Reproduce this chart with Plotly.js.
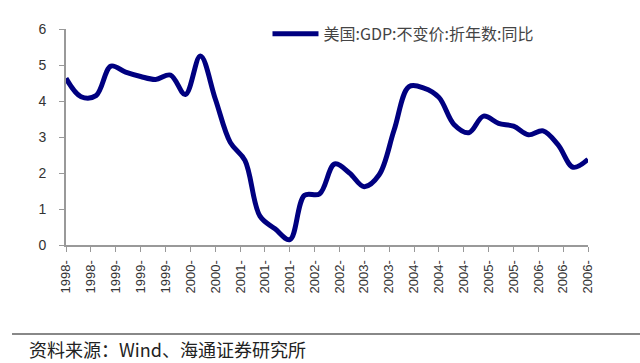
<!DOCTYPE html>
<html>
<head>
<meta charset="utf-8">
<script src="https://cdn.plot.ly/plotly-3.0.1.min.js"></script>
<style>
  html, body { margin: 0; padding: 0; background: #fff; }
  #chart { width: 640px; height: 363px; }
</style>
</head>
<body>
<div id="chart"></div>
<script>
// Quarter-end months, 1998-03 .. 2006-12
const quarters = [
  '1998-03','1998-06','1998-09','1998-12',
  '1999-03','1999-06','1999-09','1999-12',
  '2000-03','2000-06','2000-09','2000-12',
  '2001-03','2001-06','2001-09','2001-12',
  '2002-03','2002-06','2002-09','2002-12',
  '2003-03','2003-06','2003-09','2003-12',
  '2004-03','2004-06','2004-09','2004-12',
  '2005-03','2005-06','2005-09','2005-12',
  '2006-03','2006-06','2006-09','2006-12'
];
// 美国:GDP:不变价:折年数:同比 (%)
const gdpYoY = [
  4.63, 4.12, 4.15, 4.97,
  4.80, 4.68, 4.60, 4.72,
  4.18, 5.25, 4.05, 2.85,
  2.35, 0.80, 0.45, 0.15,
  1.38, 1.42, 2.25, 2.00,
  1.62, 1.95, 3.20, 4.40,
  4.36, 4.10, 3.35, 3.12,
  3.58, 3.38, 3.30, 3.06,
  3.17, 2.78, 2.16, 2.38
];
// Axis tick positions (every 5 months) and their labels
const tickDates = [
  '1998-03','1998-08','1999-01','1999-06','1999-11','2000-04','2000-09',
  '2001-02','2001-07','2001-12','2002-05','2002-10','2003-03','2003-08',
  '2004-01','2004-06','2004-11','2005-04','2005-09','2006-02','2006-07','2006-12'
];
const tickLabels = [
  '1998-','1998-','1999-','1999-','1999-','2000-','2000-',
  '2001-','2001-','2001-','2002-','2002-','2003-','2003-',
  '2004-','2004-','2004-','2005-','2005-','2006-','2006-','2006-'
];
const seriesName = '美国:GDP:不变价:折年数:同比';
const sourceText = '资料来源：Wind、海通证券研究所';

const trace = {
  x: quarters,
  y: gdpYoY,
  type: 'scatter',
  mode: 'lines',
  name: seriesName,
  line: { color: '#000080', width: 5, shape: 'spline', smoothing: 1 }
};

const layout = {
  width: 640,
  height: 363,
  margin: { l: 66, r: 52, t: 29, b: 118 },
  paper_bgcolor: '#ffffff',
  plot_bgcolor: '#ffffff',
  font: { family: 'Liberation Sans, Arial, sans-serif', color: '#333333', size: 13 },
  showlegend: true,
  legend: {
    x: 0.386, y: 0.977, xanchor: 'left', yanchor: 'middle',
    bgcolor: 'rgba(0,0,0,0)',
    itemwidth: 46,
    font: { family: 'Noto Sans CJK SC, sans-serif', size: 16, color: '#444444' }
  },
  xaxis: {
    type: 'date',
    range: ['1998-03', '2006-12'],
    tickmode: 'array',
    tickvals: tickDates,
    ticktext: tickLabels,
    tickangle: -90,
    ticks: 'outside',
    ticklen: 5,
    tickcolor: '#999999',
    showline: true,
    linecolor: '#999999',
    linewidth: 2,
    showgrid: false,
    zeroline: false,
    ticklabelstandoff: 3,
    tickfont: { size: 13, color: '#333333' }
  },
  yaxis: {
    range: [0, 6],
    tickvals: [0, 1, 2, 3, 4, 5, 6],
    ticks: 'outside',
    ticklen: 5,
    tickcolor: '#999999',
    showline: true,
    linecolor: '#999999',
    linewidth: 2,
    showgrid: false,
    zeroline: false,
    ticklabelstandoff: 10,
    tickfont: { size: 14, color: '#333333' }
  },
  shapes: [{
    type: 'line', xref: 'paper', yref: 'paper',
    x0: -0.1034, x1: 1.0996, y0: -0.412, y1: -0.412,
    line: { color: '#888888', width: 2 }
  }],
  annotations: [{
    text: sourceText,
    xref: 'paper', yref: 'paper',
    x: -0.075, y: -0.48, xanchor: 'left', yanchor: 'middle',
    showarrow: false,
    font: { family: 'Noto Sans CJK SC, sans-serif', size: 18, color: '#222222' }
  }]
};

Plotly.newPlot('chart', [trace], layout, { staticPlot: true, displayModeBar: false });
</script>
</body>
</html>
